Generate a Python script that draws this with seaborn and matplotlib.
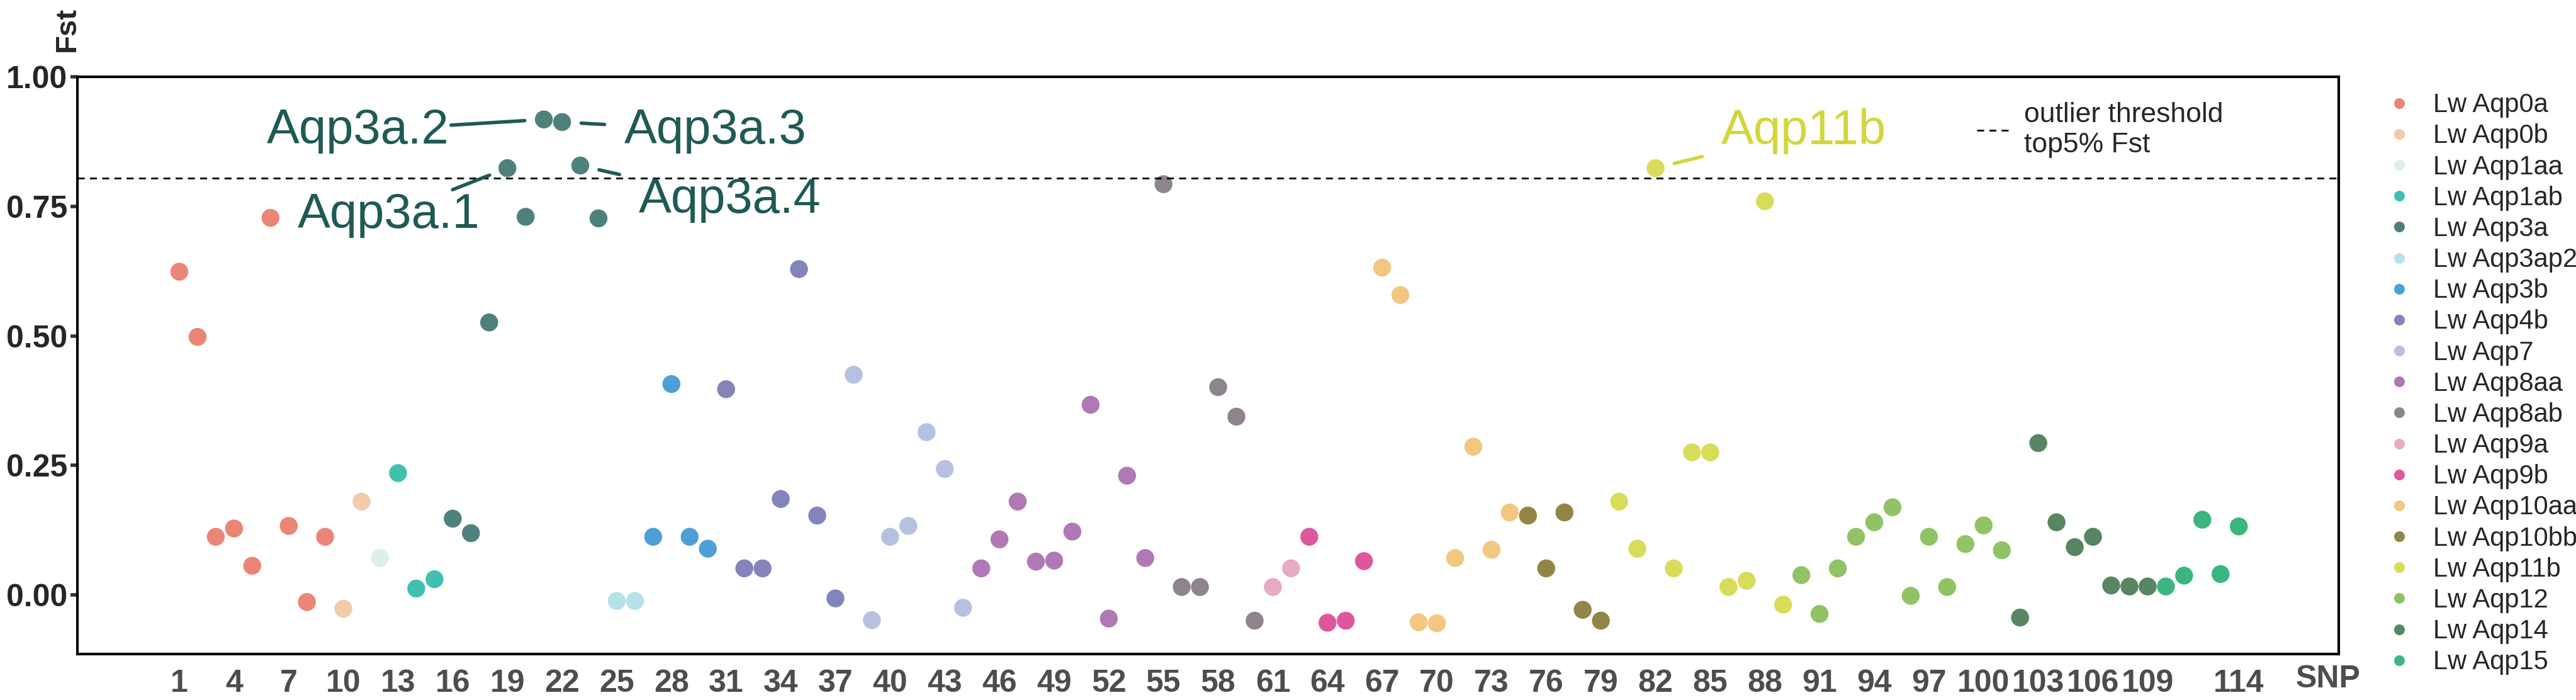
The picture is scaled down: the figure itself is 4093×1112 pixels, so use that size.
import matplotlib
matplotlib.use("Agg")
import matplotlib.pyplot as plt
import seaborn as sns
import pandas as pd

genes = ["Lw Aqp0a", "Lw Aqp0b", "Lw Aqp1aa", "Lw Aqp1ab", "Lw Aqp3a", "Lw Aqp3ap2",
         "Lw Aqp3b", "Lw Aqp4b", "Lw Aqp7", "Lw Aqp8aa", "Lw Aqp8ab", "Lw Aqp9a",
         "Lw Aqp9b", "Lw Aqp10aa", "Lw Aqp10bb", "Lw Aqp11b", "Lw Aqp12", "Lw Aqp14",
         "Lw Aqp15"]
colors = ["#E8705F", "#F0C29A", "#D5EEE3", "#1FB5A5", "#2F6B66", "#A8DCE6",
          "#2E8FD1", "#6C6FAE", "#A9B6DD", "#A261A8", "#7A6F7A", "#E39BBE",
          "#D93A8C", "#F0BE6A", "#7E7028", "#D2D63C", "#7DB94A", "#3B7046",
          "#18AA6A"]
# number of SNPs per gene, in order
snp_counts = [9, 2, 1, 3, 9, 2, 4, 7, 7, 10, 6, 2, 4, 8, 5, 10, 12, 8, 5]

fst = [0.624, 0.498, 0.112, 0.128, 0.056, 0.728, 0.133, -0.014, 0.112,
       -0.027, 0.180,
       0.071,
       0.235, 0.012, 0.030,
       0.147, 0.119, 0.526, 0.824, 0.730, 0.918, 0.913, 0.829, 0.727,
       -0.012, -0.012,
       0.112, 0.407, 0.112, 0.089,
       0.397, 0.051, 0.051, 0.185, 0.629, 0.153, -0.007,
       0.425, -0.049, 0.112, 0.133, 0.314, 0.243, -0.025,
       0.051, 0.107, 0.180, 0.064, 0.066, 0.122, 0.367, -0.046, 0.230, 0.071,
       0.793, 0.015, 0.015, 0.401, 0.344, -0.050,
       0.015, 0.051,
       0.112, -0.054, -0.050, 0.065,
       0.632, 0.579, -0.053, -0.055, 0.071, 0.286, 0.087, 0.159,
       0.153, 0.051, 0.159, -0.029, -0.050,
       0.180, 0.089, 0.824, 0.051, 0.275, 0.275, 0.015, 0.027, 0.760, -0.019,
       0.038, -0.037, 0.051, 0.112, 0.140, 0.169, -0.002, 0.112, 0.015, 0.098, 0.134, 0.086,
       -0.044, 0.293, 0.140, 0.092, 0.112, 0.018, 0.016, 0.016,
       0.016, 0.037, 0.145, 0.040, 0.132]

threshold = 0.805
xtick_labels = [str(v) for v in range(1, 110, 3)] + ["114"]
xtick_pos = list(range(1, 110, 3)) + [114]

gene_col = []
for g, n in zip(genes, snp_counts):
    gene_col += [g] * n
df = pd.DataFrame({"SNP": range(1, len(fst) + 1), "Fst": fst, "gene": gene_col})

sns.set_style("white")
plt.rcParams["font.family"] = ["Liberation Sans Narrow", "Liberation Sans", "DejaVu Sans"]

fig = plt.figure(figsize=(40.93, 11.12), dpi=100)
ax = fig.add_axes([0.030, 0.066, 0.878, 0.824])

sns.scatterplot(data=df, x="SNP", y="Fst", hue="gene", palette=dict(zip(genes, colors)),
                s=420, alpha=0.85, linewidth=0, ax=ax, legend=True)

thr = ax.axhline(threshold, color="black", ls=(0, (4, 3)), lw=2)

ax.set_xlim(-4.6, 119.5)
ax.set_ylim(-0.114, 1.0)
ax.set_xticks(range(1, 115), minor=True)
ax.set_xticks(xtick_pos)
ax.set_xticklabels(xtick_labels, fontsize=36, fontweight="bold", color="#4D4D4D")
ax.tick_params(axis="x", which="both", length=14, width=5, color="#333333", direction="out")
ax.set_yticks([0, 0.25, 0.5, 0.75, 1.0])
ax.set_yticklabels(["0.00", "0.25", "0.50", "0.75", "1.00"], fontsize=36, fontweight="bold")
ax.tick_params(axis="y", length=8, width=4, color="#333333", left=True)
ax.set_xlabel("")
ax.set_ylabel("")
for sp in ax.spines.values():
    sp.set_linewidth(3)
    sp.set_color("black")

ax.text(118.9, -0.135, "SNP", fontsize=36, fontweight="bold", color="#4D4D4D", ha="center", va="top")
fig.text(0.026, 0.99, "Fst", rotation=90, fontsize=34, fontweight="bold", ha="center", va="top")

lab3 = "#1F5A55"
lab11 = "#D2D63C"
arrow = dict(arrowstyle="-", lw=4, shrinkA=4, shrinkB=22)
ax.annotate("Aqp3a.2", xy=(21, 0.918), xytext=(10.8, 0.896), fontsize=56, color=lab3,
            ha="center", va="center", arrowprops=dict(arrow, color=lab3, shrinkA=110))
ax.annotate("Aqp3a.3", xy=(22, 0.913), xytext=(25.4, 0.896), fontsize=56, color=lab3,
            ha="left", va="center", arrowprops=dict(arrow, color=lab3, shrinkA=20))
ax.annotate("Aqp3a.1", xy=(19, 0.824), xytext=(12.5, 0.734), fontsize=56, color=lab3,
            ha="center", va="center", arrowprops=dict(arrow, color=lab3, shrinkA=80))
ax.annotate("Aqp3a.4", xy=(23, 0.829), xytext=(26.2, 0.763), fontsize=56, color=lab3,
            ha="left", va="center", arrowprops=dict(arrow, color=lab3, shrinkA=20))
ax.annotate("Aqp11b", xy=(82, 0.824), xytext=(85.6, 0.895), fontsize=56, color=lab11,
            ha="left", va="center", arrowprops=dict(arrow, color=lab11, shrinkA=20))

handles, labels = ax.get_legend_handles_labels()
gene_h = [h for h, l in zip(handles, labels) if l in genes]
gene_l = [l for l in labels if l in genes]
leg = ax.legend(gene_h, gene_l, loc="upper left", bbox_to_anchor=(1.008, 1.0), frameon=False,
                fontsize=30, markerscale=0.6, handletextpad=0.3, labelspacing=0.22,
                borderaxespad=0.2)
ax.add_artist(leg)
ax.legend([thr], ["outlier threshold\ntop5% Fst"], loc="upper right", bbox_to_anchor=(0.96, 1.0),
          frameon=False, fontsize=32, handlelength=1.2, handletextpad=0.5)

fig.savefig("out.png", dpi=100)
